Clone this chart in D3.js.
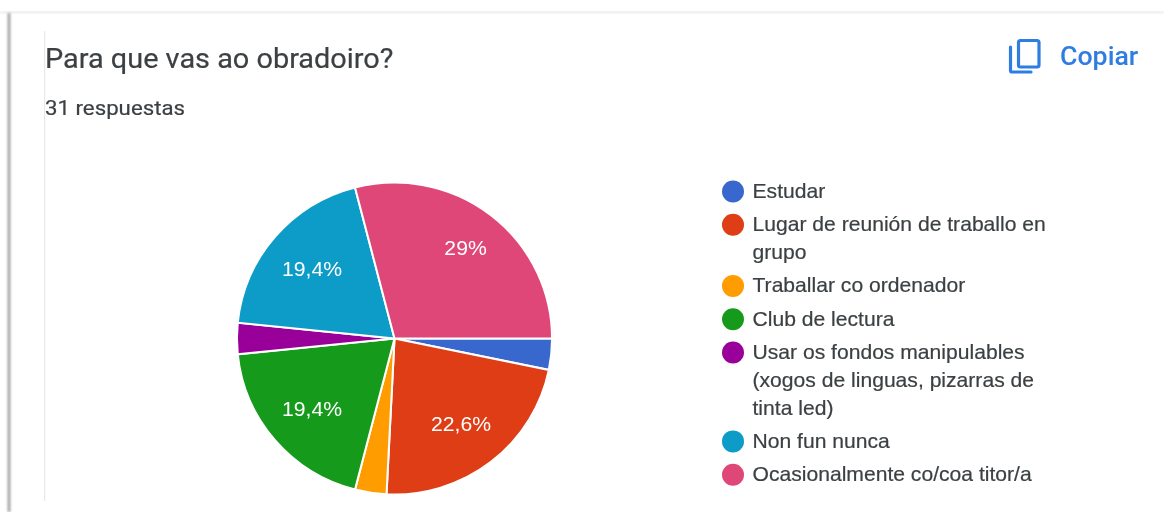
<!DOCTYPE html>
<html>
<head>
<meta charset="utf-8">
<script src="https://cdn.jsdelivr.net/npm/d3@7/dist/d3.min.js"></script>
<style>
html,body{margin:0;padding:0;background:#fff;overflow:hidden}
svg{display:block}
</style>
</head>
<body>
<svg id="chart" width="1164" height="512"></svg>
<script>
// Survey answers, one count per option
const categories = ["Estudar","Lugar de reunión de traballo en grupo","Traballar co ordenador","Club de lectura","Usar os fondos manipulables (xogos de linguas, pizarras de tinta led)","Non fun nunca","Ocasionalmente co/coa titor/a"];
const counts = [1,7,1,6,1,6,9];
const colors = ["#3768cd","#de3c14","#ff9c05","#169a1c","#990099","#0a9bc7","#df4779"];
const legendLines = [["Estudar"],["Lugar de reunión de traballo en","grupo"],["Traballar co ordenador"],["Club de lectura"],["Usar os fondos manipulables","(xogos de linguas, pizarras de","tinta led)"],["Non fun nunca"],["Ocasionalmente co/coa titor/a"]];
const title = "Para que vas ao obradoiro?";
const subtitle = "31 respuestas";
const copyLabel = "Copiar";

const svg = d3.select("#chart");
const defs = svg.append("defs");
const soft = defs.append("filter").attr("id","soft").attr("x","-10%").attr("y","-10%").attr("width","120%").attr("height","120%");
soft.append("feGaussianBlur").attr("stdDeviation",0.4);
const edge = defs.append("filter").attr("id","edge").attr("x","-300%").attr("width","700%").attr("y","-10%").attr("height","120%");
edge.append("feGaussianBlur").attr("stdDeviation",1.3);

// Card frame: soft shadow along the top and left edges
svg.append("rect").attr("x",0).attr("y",11.5).attr("width",1164).attr("height",1.5).attr("fill","#e2e2e2").attr("filter","url(#edge)");
svg.append("rect").attr("x",7.5).attr("y",13).attr("width",3).attr("height",499).attr("fill","#a8a8a8").attr("filter","url(#edge)");
svg.append("rect").attr("x",44).attr("y",31).attr("width",1.2).attr("height",470).attr("fill","#e6e8ec");

const root = svg.append("g").attr("filter","url(#soft)");

// Text stretched slightly along x, anchored at its left edge
function wideText(parent, x, y, sx, family, size, fill, str) {
  return parent.append("text")
    .attr("transform",`translate(${x},${y}) scale(${sx},1)`)
    .attr("font-family",family).attr("font-size",size)
    .attr("fill",fill).attr("stroke",fill).attr("stroke-width",0.2)
    .text(str);
}

wideText(root,45,68,1.05,"Roboto",27.5,"#3c4043",title);
wideText(root,45,115,1.06,"Roboto",21,"#3c4043",subtitle);

// Copy button icon and label
const icon = root.append("g").attr("fill","none").attr("stroke","#2f7de1").attr("stroke-width",3.2).attr("stroke-linecap","round").attr("stroke-linejoin","round");
icon.append("rect").attr("x",1018.5).attr("y",40.5).attr("width",20.5).attr("height",26.5).attr("rx",2);
icon.append("path").attr("d","M1010.5 47V70.5Q1010.5 72 1012 72H1031");
wideText(root,1060,65,1.07,"Roboto",25,"#2f7de1",copyLabel).attr("font-weight",500).attr("stroke-width",0);

// Pie, drawn clockwise from the three o'clock position
const pie = d3.pie().sort(null).value(d=>d).startAngle(Math.PI/2).endAngle(Math.PI/2+2*Math.PI);
const R = 156;
const arc = d3.arc().innerRadius(0).outerRadius(R);
const total = d3.sum(counts);
const pieG = root.append("g").attr("transform","translate(394.5,338.5) scale(1.01,1)");
const arcs = pie(counts);
pieG.selectAll("path").data(arcs).join("path").attr("d",arc).attr("fill",(d,i)=>colors[i]).attr("stroke","#fff").attr("stroke-width",2);

// Percent labels sit a little further out on the largest slice
const maxCount = d3.max(counts);
const labelPos = d => {
  const r = R * (d.data === maxCount ? 0.737 : 0.69);
  return d3.arc().innerRadius(r).outerRadius(r).centroid(d);
};
const fmt = v => { const p = Math.round(v/total*1000)/10; return String(p).replace(".",",")+"%"; };
pieG.selectAll("text").data(arcs.filter(d=>d.data/total>0.05)).join("text")
  .attr("transform",d=>`translate(${labelPos(d)})`)
  .attr("text-anchor","middle").attr("dy","0.35em")
  .attr("font-family","Liberation Sans").attr("font-size",21).attr("fill","#fff")
  .text(d=>fmt(d.data));

// Legend
const lineH = 27.8;
let y = 191.5;
const legend = root.append("g");
legendLines.forEach((lines,i)=>{
  legend.append("circle").attr("cx",733).attr("cy",y).attr("r",11).attr("fill",colors[i]);
  lines.forEach((t,j)=>{
    wideText(legend,752.5,y+j*lineH+6.5,1.03,"Liberation Sans",20.5,"#3c4043",t);
  });
  y += lines.length*lineH + 5.5;
});
</script>
</body>
</html>
